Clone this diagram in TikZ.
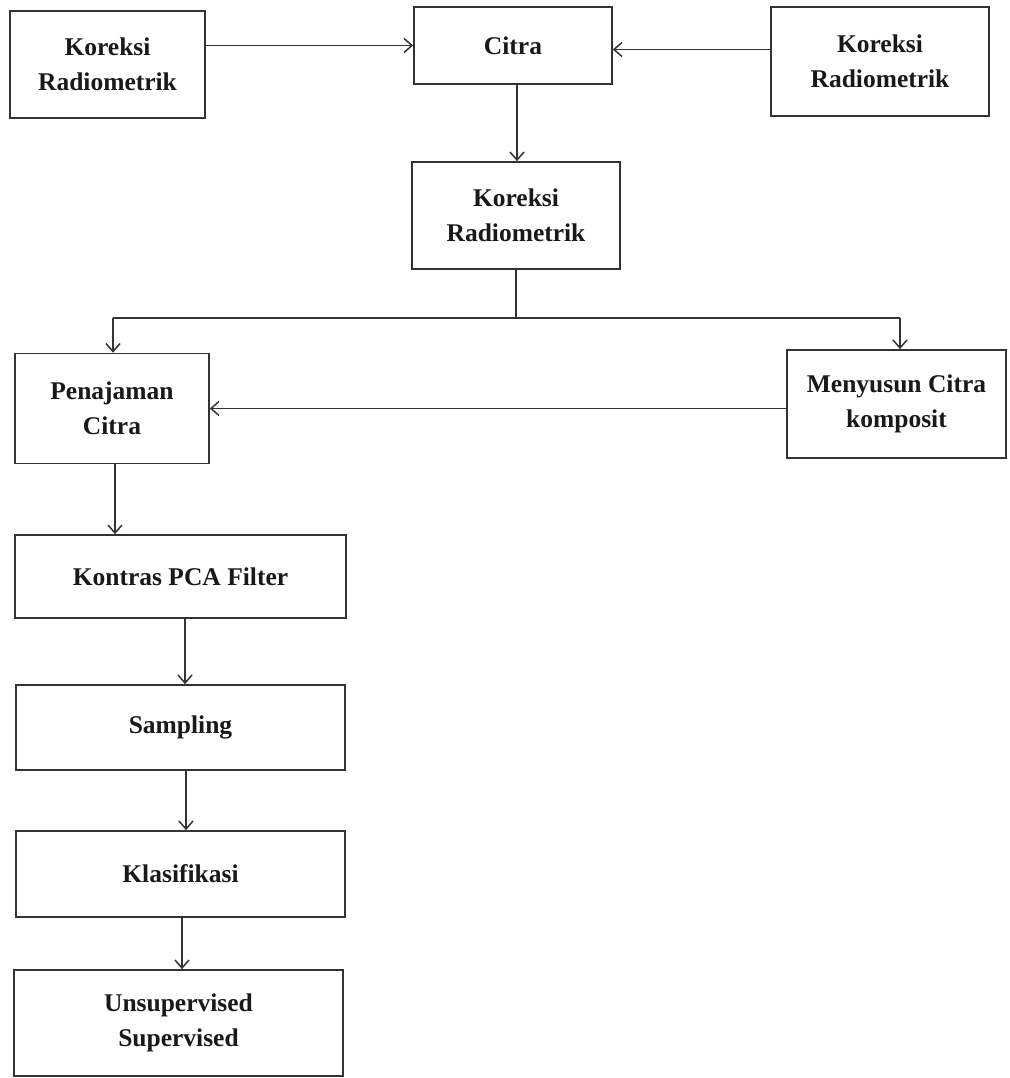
\documentclass[tikz,border=0pt]{standalone}
\usepackage{fontspec}
\setmainfont{Liberation Serif}
\usetikzlibrary{arrows.meta}
\begin{document}
\begin{tikzpicture}[x=1pt,y=-1pt,
  box/.style={draw=black!80, line width=1.7pt, align=center, inner sep=0pt,
    font=\bfseries\fontsize{25.5}{35}\selectfont, text=black!90},
  arr/.style={draw=black!80, line width=1.5pt, -{Straight Barb[length=8pt,width=14pt]}},
  ln/.style={draw=black!80, line width=1.5pt}]
\useasboundingbox (0,0) rectangle (1009,1078);
\fill[white] (0,0) rectangle (1009,1078);
\node[box, minimum width=195pt, minimum height=107pt] (kr1) at (107.5,64.5) {Koreksi\\Radiometrik};
\node[box, minimum width=198pt, minimum height=77pt] (cit) at (513,45.5) {Citra};
\node[box, minimum width=218pt, minimum height=109pt] (kr3) at (880,61.5) {Koreksi\\Radiometrik};
\node[box, minimum width=208pt, minimum height=107pt] (kr2) at (516,215.5) {Koreksi\\Radiometrik};
\node[box, minimum width=194pt, minimum height=110pt] (pen) at (112,408.5) {Penajaman\\Citra};
\node[box, minimum width=219pt, minimum height=108pt] (men) at (896.5,404) {Menyusun Citra\\komposit};
\node[box, minimum width=331pt, minimum height=83pt] (kon) at (180.5,576.5) {Kontras PCA Filter};
\node[box, minimum width=329pt, minimum height=85pt] (sam) at (180.5,727.5) {Sampling};
\node[box, minimum width=329pt, minimum height=86pt] (kla) at (180.5,874) {Klasifikasi};
\node[box, minimum width=329pt, minimum height=106pt] (uns) at (178.5,1023) {Unsupervised\\Supervised};
\coordinate (bl) at (113,318);
\coordinate (brr) at (900,318);
\draw[arr] (kr1.east |- cit.west) -- (cit.west);
\draw[arr] ([yshift=-4pt]kr3.west |- cit.east) -- ([yshift=-4pt]cit.east);
\draw[arr] ([xshift=4pt]cit.south) -- ([xshift=4pt]cit.south |- kr2.north);
\draw[ln] (kr2.south) -- (kr2.south |- bl);
\draw[ln] (bl) -- (brr);
\draw[arr] (bl) -- (bl |- pen.north);
\draw[arr] (brr) -- (brr |- men.north);
\draw[arr] (men.west |- pen.east) -- (pen.east);
\draw[arr] ([xshift=3pt]pen.south) -- ([xshift=3pt]pen.south |- kon.north);
\draw[arr] ([xshift=4.5pt]kon.south) -- ([xshift=4.5pt]kon.south |- sam.north);
\draw[arr] ([xshift=5.5pt]sam.south) -- ([xshift=5.5pt]sam.south |- kla.north);
\draw[arr] ([xshift=1.5pt]kla.south) -- ([xshift=1.5pt]kla.south |- uns.north);
\end{tikzpicture}
\end{document}
